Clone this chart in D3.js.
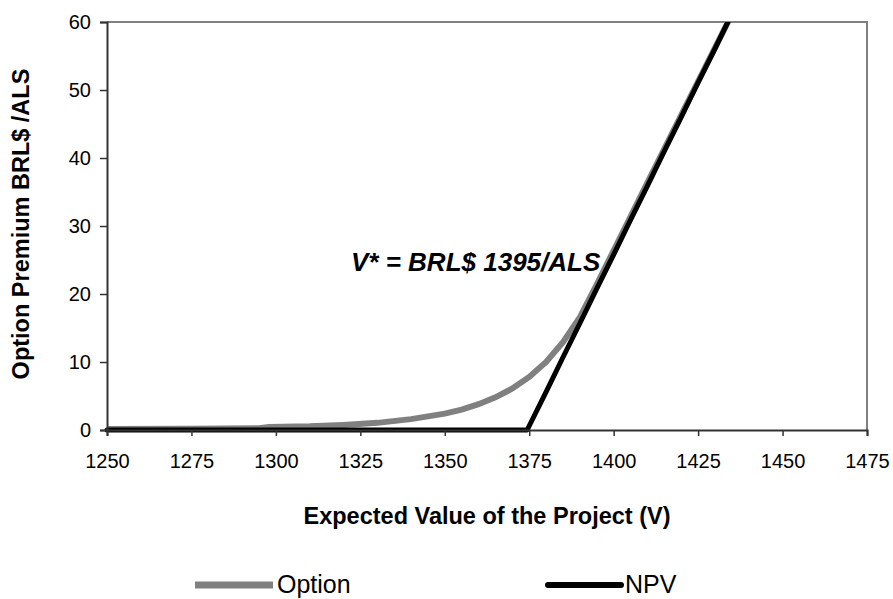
<!DOCTYPE html>
<html>
<head>
<meta charset="utf-8">
<script src="https://cdn.jsdelivr.net/npm/d3@7/dist/d3.min.js"></script>
<style>
  html, body { margin: 0; padding: 0; background: #fff; }
  svg text { font-family: "Liberation Sans", Arial, sans-serif; fill: #000; }
</style>
</head>
<body>
<svg id="chart" width="893" height="599"></svg>
<script>
// ---- data ----
const xTicks = [1250, 1275, 1300, 1325, 1350, 1375, 1400, 1425, 1450, 1475];
const yTicks = [0, 10, 20, 30, 40, 50, 60];

const optionV   = [1250, 1275, 1295, 1298, 1310, 1320, 1330, 1340, 1350, 1355, 1360, 1365, 1370, 1375, 1380, 1385, 1390, 1395, 1400, 1410, 1420, 1430, 1440];
const optionVal = [0.15, 0.2, 0.25, 0.45, 0.55, 0.75, 1.05, 1.6, 2.4, 3.0, 3.8, 4.8, 6.1, 7.8, 10.0, 12.9, 16.6, 21.4, 26.4, 36.4, 46.3, 56.2, 66.1];

const npvV   = [1250, 1300, 1350, 1374.4, 1380, 1385, 1390, 1395, 1400, 1405, 1410, 1415, 1420, 1425, 1430, 1435, 1440];
const npvVal = [0, 0, 0, 0, 5.6, 10.7, 15.7, 20.8, 25.8, 30.9, 35.9, 41.0, 46.0, 51.1, 56.1, 61.2, 66.2];

const seriesNames = ["Option", "NPV"];
const annotation = "V* = BRL$ 1395/ALS";
const xTitle = "Expected Value of the Project (V)";
const yTitle = "Option Premium BRL$ /ALS";

// ---- drawing ----
const svg = d3.select("#chart");
const L = 107, R = 867, T = 22, B = 430;

const x = d3.scaleLinear().domain([1250, 1475]).range([L, R]);
const y = d3.scaleLinear().domain([0, 60]).range([B, T]);

// plot frame (top/right gray)
svg.append("path")
  .attr("d", `M${L},${T}H${R}V${B}`)
  .attr("fill", "none").attr("stroke", "#808080").attr("stroke-width", 2);

svg.append("clipPath").attr("id", "clip")
  .append("rect").attr("x", L - 4).attr("y", T).attr("width", R - L + 8).attr("height", B - T + 4);

const line = d3.line().x(d => x(d[0])).y(d => y(d[1]));

const optData = optionV.map((v, i) => [v, optionVal[i]]);
const npvData = npvV.map((v, i) => [v, npvVal[i]]);

const g = svg.append("g").attr("clip-path", "url(#clip)");
g.append("path").datum(optData)
  .attr("d", line).attr("fill", "none")
  .attr("stroke", "#808080").attr("stroke-width", 6)
  .attr("stroke-linejoin", "miter").attr("stroke-linecap", "butt");
g.append("path").datum(npvData)
  .attr("d", line).attr("fill", "none")
  .attr("stroke", "#000").attr("stroke-width", 5)
  .attr("stroke-linejoin", "round").attr("stroke-linecap", "round");

// axes
const xAxis = d3.axisBottom(x).tickValues(xTicks).tickSize(6).tickPadding(18).tickFormat(d3.format("d"));
const gx = svg.append("g").attr("transform", `translate(0,${B})`).call(xAxis);
gx.select(".domain").attr("stroke", "#333").attr("stroke-width", 2);
gx.selectAll(".tick line").attr("stroke", "#333").attr("stroke-width", 1.5);
gx.selectAll(".tick text").attr("font-size", 20).attr("font-family", "Liberation Sans, Arial, sans-serif");

const yAxis = d3.axisLeft(y).tickValues(yTicks).tickSize(7).tickPadding(9).tickFormat(d3.format("d"));
const gy = svg.append("g").attr("transform", `translate(${L},0)`).call(yAxis);
gy.select(".domain").attr("stroke", "#333").attr("stroke-width", 2);
gy.selectAll(".tick line").attr("stroke", "#333").attr("stroke-width", 1.5);
gy.selectAll(".tick text").attr("font-size", 20).attr("font-family", "Liberation Sans, Arial, sans-serif");

// titles
svg.append("text").attr("x", (L + R) / 2).attr("y", 524)
  .attr("text-anchor", "middle").attr("font-size", 23.5).attr("font-weight", "bold")
  .text(xTitle);
svg.append("text").attr("transform", "translate(29,224) rotate(-90)")
  .attr("text-anchor", "middle").attr("font-size", 23.5).attr("font-weight", "bold")
  .text(yTitle);

// annotation
svg.append("text").attr("x", 351).attr("y", 270.5)
  .attr("font-size", 26).attr("font-weight", "bold").attr("font-style", "italic")
  .text(annotation);

// legend
const legend = [
  { name: seriesNames[0], x1: 195, x2: 273, color: "#808080", w: 7, cap: "butt" },
  { name: seriesNames[1], x1: 548, x2: 621, color: "#000", w: 6, cap: "round" }
];
legend.forEach(l => {
  svg.append("line").attr("x1", l.x1).attr("x2", l.x2).attr("y1", 585).attr("y2", 585)
    .attr("stroke", l.color).attr("stroke-width", l.w).attr("stroke-linecap", l.cap);
  svg.append("text").attr("x", l.x2 + 4).attr("y", 593).attr("font-size", 25).text(l.name);
});
</script>
</body>
</html>
